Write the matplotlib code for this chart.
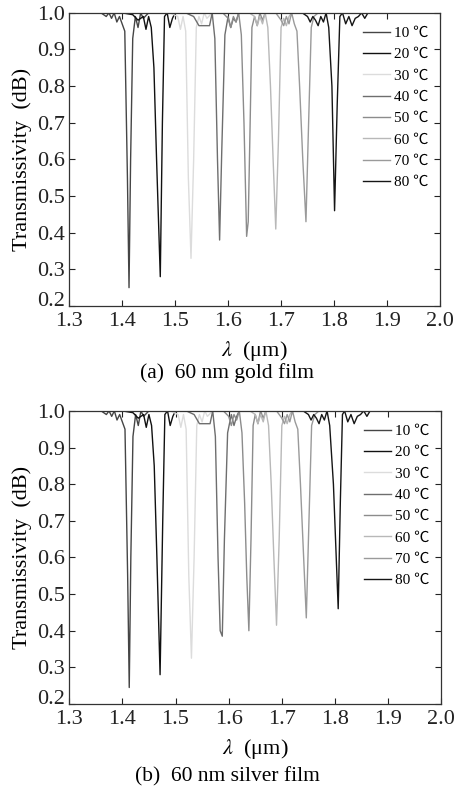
#!/usr/bin/env python3
"""
Transmission spectra of the temperature sensor
(a) 60 nm gold film, (b) 60 nm silver film
"""

import matplotlib
matplotlib.use('Agg')  # no display
import matplotlib.pyplot as plt

plt.rcParams['font.family'] = ['Liberation Serif', 'Noto Sans CJK SC']
plt.rcParams['mathtext.fontset'] = 'stix'

# temperatures and line greys
temps = ['10 ℃', '20 ℃', '30 ℃', '40 ℃', '50 ℃', '60 ℃', '70 ℃', '80 ℃']
greys = ['#454545', '#111111', '#dcdcdc', '#6e6e6e', '#8c8c8c', '#b8b8b8', '#9a9a9a', '#151515']

# --- 60 nm gold film: wavelength (um) / transmissivity per temperature ---
gold_wl = [
    [1.36, 1.37, 1.375, 1.38, 1.385, 1.39, 1.395, 1.40, 1.405, 1.410, 1.413, 1.416, 1.420, 1.425, 1.43, 1.435, 1.44, 1.45, 1.88],
    [1.37, 1.40, 1.42, 1.43, 1.44, 1.445, 1.45, 1.455, 1.46, 1.465, 1.472, 1.476, 1.48, 1.485, 1.49, 1.495, 1.50, 1.51, 1.88],
    [1.36, 1.49, 1.505, 1.51, 1.515, 1.52, 1.525, 1.530, 1.535, 1.54, 1.545, 1.55, 1.555, 1.56, 1.57, 1.88],
    [1.36, 1.52, 1.535, 1.545, 1.55, 1.565, 1.57, 1.575, 1.580, 1.584, 1.588, 1.594, 1.60, 1.605, 1.61, 1.615, 1.62, 1.63, 1.88],
    [1.36, 1.59, 1.60, 1.605, 1.61, 1.615, 1.62, 1.625, 1.630, 1.635, 1.638, 1.641, 1.645, 1.65, 1.655, 1.66, 1.665, 1.67, 1.88],
    [1.36, 1.64, 1.65, 1.655, 1.66, 1.665, 1.67, 1.675, 1.680, 1.685, 1.690, 1.695, 1.70, 1.705, 1.71, 1.715, 1.72, 1.88],
    [1.36, 1.69, 1.70, 1.705, 1.71, 1.715, 1.72, 1.725, 1.730, 1.735, 1.741, 1.747, 1.752, 1.757, 1.762, 1.77, 1.88],
    [1.36, 1.74, 1.75, 1.755, 1.76, 1.765, 1.77, 1.775, 1.780, 1.785, 1.790, 1.796, 1.801, 1.806, 1.811, 1.816, 1.822, 1.828, 1.834, 1.840, 1.846, 1.852, 1.858, 1.864, 1.87],
]
gold_T = [
    [1.0, 0.99, 1.0, 0.985, 1.0, 0.975, 0.99, 0.97, 0.95, 0.55, 0.25, 0.60, 0.93, 0.99, 0.96, 1.0, 0.985, 1.0, 1.0],
    [1.0, 1.0, 0.995, 0.98, 0.99, 0.955, 0.99, 0.96, 0.85, 0.60, 0.28, 0.70, 0.99, 1.0, 0.96, 0.985, 1.0, 1.0, 1.0],
    [1.0, 1.0, 0.99, 0.955, 0.99, 0.95, 0.55, 0.33, 0.60, 0.96, 0.99, 0.97, 1.0, 0.985, 1.0, 1.0],
    [1.0, 1.0, 0.99, 0.965, 0.965, 0.965, 1.0, 0.93, 0.60, 0.38, 0.62, 0.94, 0.99, 0.96, 0.985, 0.975, 1.0, 1.0, 1.0],
    [1.0, 1.0, 0.985, 0.96, 0.99, 0.975, 1.0, 0.94, 0.70, 0.39, 0.43, 0.65, 0.96, 0.99, 0.965, 1.0, 0.98, 1.0, 1.0],
    [1.0, 1.0, 0.99, 0.965, 0.99, 0.97, 1.0, 0.96, 0.80, 0.60, 0.41, 0.65, 0.96, 0.985, 0.965, 0.99, 1.0, 1.0],
    [1.0, 1.0, 0.98, 0.965, 0.99, 0.97, 1.0, 0.97, 0.95, 0.80, 0.60, 0.43, 0.70, 0.96, 0.99, 1.0, 1.0],
    [1.0, 1.0, 0.99, 0.975, 0.99, 0.98, 0.965, 0.99, 0.975, 1.0, 0.96, 0.80, 0.46, 0.75, 0.99, 1.0, 0.97, 0.99, 0.965, 0.985, 0.99, 1.0, 0.985, 1.0, 1.0],
]

# --- 60 nm silver film ---
silver_wl = [
    [1.36, 1.37, 1.375, 1.38, 1.385, 1.39, 1.395, 1.40, 1.405, 1.410, 1.413, 1.416, 1.420, 1.425, 1.43, 1.435, 1.44, 1.45, 1.88],
    [1.37, 1.40, 1.42, 1.43, 1.44, 1.445, 1.45, 1.455, 1.46, 1.465, 1.471, 1.476, 1.48, 1.485, 1.49, 1.495, 1.50, 1.51, 1.88],
    [1.36, 1.49, 1.505, 1.51, 1.515, 1.52, 1.525, 1.530, 1.535, 1.54, 1.545, 1.55, 1.555, 1.56, 1.57, 1.88],
    [1.36, 1.52, 1.535, 1.545, 1.55, 1.565, 1.57, 1.575, 1.580, 1.584, 1.588, 1.592, 1.598, 1.605, 1.61, 1.615, 1.62, 1.63, 1.88],
    [1.36, 1.59, 1.60, 1.605, 1.61, 1.615, 1.62, 1.625, 1.630, 1.634, 1.638, 1.642, 1.646, 1.65, 1.655, 1.66, 1.665, 1.67, 1.88],
    [1.36, 1.64, 1.65, 1.655, 1.66, 1.665, 1.67, 1.675, 1.680, 1.685, 1.690, 1.695, 1.70, 1.705, 1.71, 1.715, 1.72, 1.88],
    [1.36, 1.69, 1.70, 1.705, 1.71, 1.715, 1.72, 1.725, 1.730, 1.735, 1.741, 1.746, 1.751, 1.756, 1.762, 1.77, 1.88],
    [1.36, 1.74, 1.75, 1.755, 1.76, 1.765, 1.77, 1.775, 1.780, 1.785, 1.790, 1.797, 1.806, 1.810, 1.814, 1.818, 1.824, 1.830, 1.836, 1.842, 1.848, 1.854, 1.860, 1.866, 1.87],
]
silver_T = [
    [1.0, 0.99, 1.0, 0.985, 1.0, 0.975, 0.99, 0.97, 0.95, 0.55, 0.245, 0.60, 0.93, 0.99, 0.96, 1.0, 0.985, 1.0, 1.0],
    [1.0, 1.0, 0.995, 0.98, 0.99, 0.955, 0.99, 0.96, 0.85, 0.60, 0.28, 0.70, 0.99, 1.0, 0.96, 0.985, 1.0, 1.0, 1.0],
    [1.0, 1.0, 0.99, 0.955, 0.99, 0.95, 0.55, 0.325, 0.60, 0.96, 0.99, 0.97, 1.0, 0.985, 1.0, 1.0],
    [1.0, 1.0, 0.99, 0.965, 0.965, 0.965, 1.0, 0.93, 0.60, 0.40, 0.385, 0.65, 0.94, 0.99, 0.96, 0.985, 1.0, 1.0, 1.0],
    [1.0, 1.0, 0.985, 0.96, 0.99, 0.975, 1.0, 0.94, 0.75, 0.55, 0.40, 0.65, 0.96, 0.99, 0.965, 1.0, 0.98, 1.0, 1.0],
    [1.0, 1.0, 0.99, 0.965, 0.99, 0.97, 1.0, 0.96, 0.80, 0.60, 0.415, 0.65, 0.96, 0.985, 0.965, 0.99, 1.0, 1.0],
    [1.0, 1.0, 0.98, 0.965, 0.99, 0.97, 1.0, 0.97, 0.95, 0.80, 0.60, 0.435, 0.70, 0.96, 0.99, 1.0, 1.0],
    [1.0, 1.0, 0.99, 0.975, 0.99, 0.98, 0.965, 0.99, 0.975, 1.0, 0.96, 0.80, 0.46, 0.75, 0.99, 1.0, 0.97, 0.99, 0.965, 0.985, 0.99, 1.0, 0.985, 1.0, 1.0],
]

xticks = [1.3, 1.4, 1.5, 1.6, 1.7, 1.8, 1.9, 2.0]
yticks = [0.2, 0.3, 0.4, 0.5, 0.6, 0.7, 0.8, 0.9, 1.0]

fig = plt.figure(figsize=(4.55, 7.88), dpi=100)
ax_a = fig.add_axes([0.152, 0.6117, 0.815, 0.372])
ax_b = fig.add_axes([0.152, 0.1066, 0.818, 0.372])

panels = [(ax_a, gold_wl, gold_T, '(a)  60 nm gold film', 0.527),
          (ax_b, silver_wl, silver_T, '(b)  60 nm silver film', 0.014)]

for ax, wl, T, caption, cy in panels:
    for i in range(len(temps)):
        ax.plot(wl[i], T[i], color=greys[i], lw=1.0, label=temps[i])
    ax.set_xlim(1.3, 2.0)
    ax.set_ylim(0.2, 1.0)
    ax.set_xticks(xticks)
    ax.set_yticks(yticks)
    ax.set_xticklabels([f'{v:.1f}' for v in xticks])
    ax.set_yticklabels([f'{v:.1f}' for v in yticks])
    ax.tick_params(direction='in', top=True, right=True, length=4, width=0.8,
                   labelsize=16, colors='#222222')
    ax.tick_params(axis='x', pad=4)
    ax.tick_params(axis='y', pad=3)
    # lowest y label sits on its tick baseline, as in the original
    ax.get_yticklabels()[0].set_va('baseline')
    for sp in ax.spines.values():
        sp.set_linewidth(0.9)
        sp.set_color('#333333')
    ax.set_xlabel(r'$\lambda$  (μm)', fontsize=16, labelpad=6)
    ax.set_ylabel('Transmissivity  (dB)', fontsize=16, labelpad=4)
    ax.legend(loc='upper left', bbox_to_anchor=(0.777, 0.975), frameon=False,
              fontsize=11, handlelength=1.75, handletextpad=0.25,
              labelspacing=0.5, borderaxespad=0)
    fig.text(0.5, cy, caption, ha='center', va='center', fontsize=15.5)

plt.savefig('out.png', dpi=100)
print("Saved: out.png")
